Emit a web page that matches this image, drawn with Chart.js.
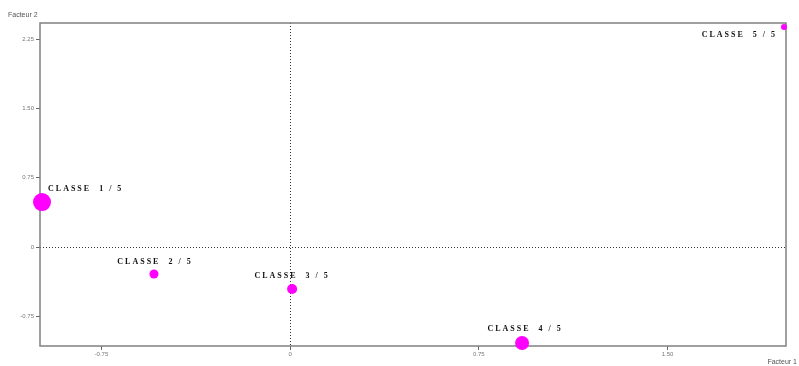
<!DOCTYPE html>
<html>
<head>
<meta charset="utf-8">
<script src="https://cdn.jsdelivr.net/npm/chart.js@4"></script>
<style>
  html, body { margin: 0; padding: 0; background: #fff; }
  #wrap { width: 799px; height: 366px; }
</style>
</head>
<body>
<div id="wrap"><canvas id="chart" width="799" height="366"></canvas></div>
<script>
// class labels and factor coordinates
const classLabels = ["CLASSE  1 / 5", "CLASSE  2 / 5", "CLASSE  3 / 5", "CLASSE  4 / 5", "CLASSE  5 / 5"];
const factor1 = [-0.986, -0.541, 0.008, 0.922, 1.963];
const factor2 = [0.487, -0.292, -0.455, -1.039, 2.381];
// relative class weight (drawn as bubble radius)
const classWeights = [9, 4.5, 5, 7, 3];

const xTicks = [-0.75, 0, 0.75, 1.5];
const yTicks = [-0.75, 0, 0.75, 1.5, 2.25];
const tickText = { "-0.75": "-0.75", "0": "0", "0.75": "0.75", "1.5": "1.50", "2.25": "2.25" };

// where each label sits relative to its point
const labelPlace = [
  { dx: 6, dy: -11, align: "left" },
  { dx: 1, dy: -10, align: "center" },
  { dx: 0, dy: -11, align: "center" },
  { dx: 3, dy: -12, align: "center" },
  { dx: -7, dy: 10, align: "right" }
];

const points = factor1.map((x, i) => ({ x: x, y: factor2[i], r: classWeights[i] }));

const framePlugin = {
  id: "frame",
  beforeDatasetsDraw(chart) {
    const { ctx, chartArea, scales } = chart;
    const x0 = scales.x.getPixelForValue(0);
    const y0 = scales.y.getPixelForValue(0);
    ctx.save();
    ctx.strokeStyle = "#333";
    ctx.lineWidth = 1;
    ctx.setLineDash([1, 2]);
    ctx.beginPath();
    ctx.moveTo(Math.round(x0) + 0.5, chartArea.top);
    ctx.lineTo(Math.round(x0) + 0.5, chartArea.bottom);
    ctx.moveTo(chartArea.left, Math.round(y0) + 0.5);
    ctx.lineTo(chartArea.right, Math.round(y0) + 0.5);
    ctx.stroke();
    ctx.setLineDash([]);
    ctx.strokeStyle = "#808080";
    ctx.lineWidth = 1.5;
    ctx.strokeRect(chartArea.left, chartArea.top, chartArea.right - chartArea.left, chartArea.bottom - chartArea.top);
    ctx.restore();
  },
  afterDatasetsDraw(chart) {
    const { ctx } = chart;
    const meta = chart.getDatasetMeta(0);
    ctx.save();
    ctx.font = "bold 8px 'Liberation Serif', serif";
    ctx.letterSpacing = "2px";
    ctx.fillStyle = "#111";
    ctx.textBaseline = "alphabetic";
    meta.data.forEach((el, i) => {
      const p = labelPlace[i];
      ctx.textAlign = p.align;
      ctx.fillText(classLabels[i], el.x + p.dx, el.y + p.dy);
    });
    ctx.letterSpacing = "0px";
    ctx.font = "7px 'Liberation Sans', sans-serif";
    ctx.fillStyle = "#555";
    ctx.textAlign = "left";
    ctx.fillText("Facteur 2", 8, 17);
    ctx.textAlign = "right";
    ctx.fillText("Facteur 1", 797, 364);
    ctx.restore();
  }
};

new Chart(document.getElementById("chart"), {
  type: "bubble",
  data: {
    datasets: [{
      data: points,
      backgroundColor: "#ff00ff",
      borderColor: "#ff00ff",
      borderWidth: 0,
      hoverRadius: 0
    }]
  },
  options: {
    responsive: false,
    animation: false,
    clip: false,
    layout: { padding: { left: 0, right: 13, top: 23, bottom: 0 } },
    plugins: { legend: { display: false }, tooltip: { enabled: false } },
    scales: {
      x: {
        type: "linear",
        min: -0.994,
        max: 1.971,
        afterBuildTicks: (s) => { s.ticks = xTicks.map(v => ({ value: v })); },
        afterFit: (s) => { s.height = 20; },
        border: { display: false },
        grid: { drawOnChartArea: false, color: "#666", tickLength: 4 },
        ticks: {
          color: "#777",
          font: { size: 6, family: "'Liberation Sans', sans-serif" },
          padding: 1,
          maxRotation: 0,
          callback: (v) => tickText[String(v)]
        }
      },
      y: {
        type: "linear",
        min: -1.071,
        max: 2.424,
        afterBuildTicks: (s) => { s.ticks = yTicks.map(v => ({ value: v })); },
        afterFit: (s) => { s.width = 40; },
        border: { display: false },
        grid: { drawOnChartArea: false, color: "#666", tickLength: 4 },
        ticks: {
          color: "#777",
          font: { size: 6, family: "'Liberation Sans', sans-serif" },
          padding: 2,
          callback: (v) => tickText[String(v)]
        }
      }
    }
  },
  plugins: [framePlugin]
});
</script>
</body>
</html>
